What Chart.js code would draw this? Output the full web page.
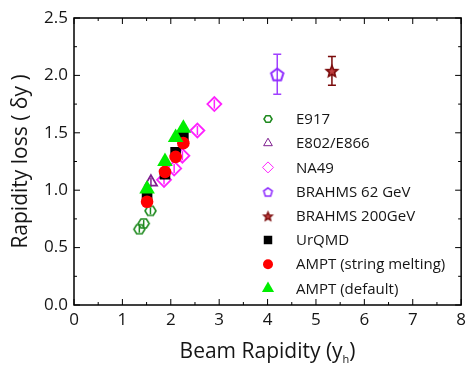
<!DOCTYPE html>
<html><head><meta charset="utf-8">
<script src="https://cdn.jsdelivr.net/npm/chart.js@4/dist/chart.umd.min.js"></script>
<style>html,body{margin:0;padding:0;background:#fff}#wrap{width:471px;height:365px}</style>
</head><body><div id="wrap"><canvas id="c" width="471" height="365"></canvas></div>
<script>
// ---- data ----
const seriesNames = ["E917","E802/E866","NA49","BRAHMS 62 GeV","BRAHMS 200GeV","UrQMD","AMPT (string melting)","AMPT (default)"];
const e917X = [1.35, 1.44, 1.58];
const e917Y = [0.66, 0.71, 0.82];
const e917Err = [0.03, 0.03, 0.03];
const e802X = [1.59];
const e802Y = [1.07];
const e802Err = [0.04];
const na49X = [1.86, 2.07, 2.24, 2.55, 2.90];
const na49Y = [1.09, 1.19, 1.30, 1.52, 1.75];
const na49Err = [0.04, 0.04, 0.04, 0.04, 0.04];
const b62X = [4.20];
const b62Y = [2.01];
const b62Err = [0.175];
const b200X = [5.33];
const b200Y = [2.04];
const b200Err = [0.125];
const urqmdX = [1.51, 1.88, 2.10, 2.26];
const urqmdY = [0.94, 1.14, 1.33, 1.47];
const amptSmX = [1.51, 1.88, 2.10, 2.26];
const amptSmY = [0.90, 1.16, 1.29, 1.41];
const amptDefX = [1.51, 1.88, 2.10, 2.26];
const amptDefY = [1.01, 1.25, 1.46, 1.54];
const xTickValues = [0,1,2,3,4,5,6,7,8];
const yTickValues = [0.0,0.5,1.0,1.5,2.0,2.5];
const xTitleMain = "Beam Rapidity (y", xTitleSub = "h", xTitleEnd = ")";
const yTitle = "Rapidity loss ( δy )";

// ---- marker shapes ----
function shape(kind, size, color, lw, fill){
  const pad = 3, c = document.createElement('canvas');
  c.width = c.height = size + pad*2;
  const g = c.getContext('2d'), cx = c.width/2, cy = c.height/2, r = size/2;
  g.beginPath();
  if (kind === 'hex') {
    for (let i=0;i<6;i++){const a=i*Math.PI/3; g.lineTo(cx+r*Math.cos(a), cy+r*Math.sin(a)*0.95);}
  } else if (kind === 'pent') {
    for (let i=0;i<5;i++){const a=-Math.PI/2+i*2*Math.PI/5; g.lineTo(cx+r*Math.cos(a), cy+r*Math.sin(a)+0.8);}
  } else if (kind === 'star') {
    for (let i=0;i<10;i++){const a=-Math.PI/2+i*Math.PI/5, rr=(i%2?r*0.45:r); g.lineTo(cx+rr*Math.cos(a), cy+rr*Math.sin(a)+0.8);}
  }
  g.closePath();
  if (fill){g.fillStyle=fill; g.fill();}
  g.lineWidth = lw; g.strokeStyle = color; g.lineJoin='miter'; g.stroke();
  return c;
}
const C = {e917:'#1f8a1f', e802:'#7f1f8f', na49:'#ff22ff', b62:'#a040ff', b200:'#7a0a0a', urqmd:'#000000', sm:'#ff0000', def:'#00ee00'};
const hexBig = shape('hex', 11, C.e917, 1.6), hexSmall = shape('hex', 8, C.e917, 1.6);
const pentBig = shape('pent', 13, '#8f2bff', 2), pentSmall = shape('pent', 9, '#8f2bff', 1.6);
const starBig = shape('star', 12, C.b200, 1.6, '#c04040'), starSmall = shape('star', 9, C.b200, 1.4, '#c04040');

const pts = (xs, ys) => xs.map((x,i)=>({x, y: ys[i]}));

const datasets = [
  {label:seriesNames[0], data:pts(e917X,e917Y), err:e917Err, pointStyle:hexBig, legendStyle:hexSmall, borderColor:C.e917, backgroundColor:'rgba(0,0,0,0)', order:7},
  {label:seriesNames[1], data:pts(e802X,e802Y), err:e802Err, pointStyle:'triangle', pointRadius:7, pointBorderWidth:1.8, legendStyle:'triangle', legendRadius:5, borderColor:C.e802, backgroundColor:'rgba(0,0,0,0)', order:6},
  {label:seriesNames[2], data:pts(na49X,na49Y), err:na49Err, pointStyle:'rectRot', pointRadius:7, pointBorderWidth:1.8, legendStyle:'rectRot', legendRadius:5.5, borderColor:C.na49, backgroundColor:'rgba(0,0,0,0)', order:5},
  {label:seriesNames[3], data:pts(b62X,b62Y), err:b62Err, pointStyle:pentBig, legendStyle:pentSmall, borderColor:C.b62, backgroundColor:'rgba(0,0,0,0)', order:4},
  {label:seriesNames[4], data:pts(b200X,b200Y), err:b200Err, pointStyle:starBig, legendStyle:starSmall, borderColor:C.b200, backgroundColor:'rgba(0,0,0,0)', order:3},
  {label:seriesNames[5], data:pts(urqmdX,urqmdY), pointStyle:'rect', pointRadius:7.5, pointBorderWidth:0, legendStyle:'rect', legendRadius:6, borderColor:C.urqmd, backgroundColor:C.urqmd, order:2},
  {label:seriesNames[6], data:pts(amptSmX,amptSmY), pointStyle:'circle', pointRadius:6.3, pointBorderWidth:0, legendStyle:'circle', legendRadius:5, borderColor:C.sm, backgroundColor:C.sm, order:1},
  {label:seriesNames[7], data:pts(amptDefX,amptDefY), pointStyle:'triangle', pointRadius:9, pointBorderWidth:0, legendStyle:'triangle', legendRadius:7, borderColor:C.def, backgroundColor:C.def, order:0}
];
datasets.forEach(d=>{ d.showLine=false; if(d.pointRadius===undefined) d.pointRadius=6; d.pointHoverRadius=d.pointRadius; });

const FONT = "'Open Sans','DejaVu Sans',sans-serif";
const TXT = '#151515';

const errorBars = {
  id:'errorBars',
  beforeDatasetsDraw(chart){
    const ctx = chart.ctx, ys = chart.scales.y;
    chart.data.datasets.forEach((ds, di)=>{
      if(!ds.err) return;
      const meta = chart.getDatasetMeta(di);
      ctx.save(); ctx.strokeStyle = ds.borderColor; ctx.lineWidth = 1.5;
      meta.data.forEach((el,i)=>{
        const e = ds.err[i], v = ds.data[i].y;
        const y1 = ys.getPixelForValue(v+e), y2 = ys.getPixelForValue(v-e);
        ctx.beginPath(); ctx.moveTo(el.x, y1); ctx.lineTo(el.x, y2);
        if (e > 0.1){ ctx.moveTo(el.x-4, y1); ctx.lineTo(el.x+4, y1); ctx.moveTo(el.x-4, y2); ctx.lineTo(el.x+4, y2); }
        ctx.stroke();
      });
      ctx.restore();
    });
  }
};

const frameTicks = {
  id:'frameTicks',
  afterDraw(chart){
    const ctx = chart.ctx, a = chart.chartArea, xs = chart.scales.x, ys = chart.scales.y;
    ctx.save(); ctx.strokeStyle = '#000'; ctx.lineWidth = 1.5;
    ctx.strokeRect(a.left, a.top, a.right-a.left, a.bottom-a.top);
    ctx.lineWidth = 1;
    const xt = []; for(let i=0;i<xTickValues.length;i++){ xt.push([xTickValues[i],6]); if(i<xTickValues.length-1) xt.push([(xTickValues[i]+xTickValues[i+1])/2,3]); }
    const yt = []; for(let i=0;i<yTickValues.length;i++){ yt.push([yTickValues[i],6]); if(i<yTickValues.length-1) yt.push([(yTickValues[i]+yTickValues[i+1])/2,3]); }
    ctx.beginPath();
    xt.forEach(([v,l])=>{ const p = xs.getPixelForValue(v); ctx.moveTo(p,a.bottom); ctx.lineTo(p,a.bottom-l); ctx.moveTo(p,a.top); ctx.lineTo(p,a.top+l); });
    yt.forEach(([v,l])=>{ const p = ys.getPixelForValue(v); ctx.moveTo(a.left,p); ctx.lineTo(a.left+l,p); ctx.moveTo(a.right,p); ctx.lineTo(a.right-l,p); });
    ctx.stroke();
    // x-axis title with subscript
    const big = "21px " + FONT, small = "11px " + FONT;
    ctx.fillStyle = TXT; ctx.textBaseline = 'alphabetic'; ctx.textAlign = 'left';
    ctx.font = big; const w1 = ctx.measureText(xTitleMain).width, w3 = ctx.measureText(xTitleEnd).width;
    ctx.font = small; const w2 = ctx.measureText(xTitleSub).width;
    const total = w1 + w2 + w3, cx = (a.left + a.right)/2, base = 358;
    let x = cx - total/2;
    ctx.font = big; ctx.fillText(xTitleMain, x, base); x += w1;
    ctx.font = small; ctx.fillText(xTitleSub, x, base + 5); x += w2;
    ctx.font = big; ctx.fillText(xTitleEnd, x, base);
    ctx.restore();
  }
};

const insideLegend = {
  id:'insideLegend',
  afterDatasetsDraw(chart){
    const ctx = chart.ctx;
    const mx = 268, tx = 296, y0 = 119, dy = 24.2;
    ctx.save();
    ctx.font = "15px " + FONT; ctx.textBaseline = 'middle';
    chart.data.datasets.forEach((ds,i)=>{
      const y = y0 + i*dy;
      ctx.save();
      ctx.fillStyle = ds.backgroundColor; ctx.strokeStyle = ds.borderColor;
      Chart.helpers.drawPoint(ctx, {pointStyle: ds.legendStyle, radius: ds.legendRadius || 5, borderWidth: ds.pointBorderWidth === 0 ? 0 : 1.6, rotation:0}, mx, y);
      ctx.restore();
      ctx.fillStyle = TXT;
      ctx.fillText(ds.label, tx, y + 1);
    });
    ctx.restore();
  }
};

new Chart(document.getElementById('c'), {
  type:'scatter',
  data:{datasets},
  options:{
    responsive:false, animation:false, devicePixelRatio:1,
    layout:{padding:{top:18,right:7,left:0,bottom:0}},
    plugins:{legend:{display:false}, tooltip:{enabled:false}},
    scales:{
      x:{type:'linear', min:0, max:8,
        afterBuildTicks(s){ s.ticks = xTickValues.map(v=>({value:v})); },
        afterFit(s){ s.height = 60; },
        grid:{display:false, drawTicks:false}, border:{display:false},
        ticks:{padding:5, color:TXT, font:{family:FONT, size:17}, callback:v=>String(v), maxRotation:0, autoSkip:false},
        title:{display:false}
      },
      y:{type:'linear', min:0, max:2.5,
        afterBuildTicks(s){ s.ticks = yTickValues.map(v=>({value:v})); },
        afterFit(s){ s.width = 74; },
        grid:{display:false, drawTicks:false}, border:{display:false},
        ticks:{padding:6, color:TXT, font:{family:FONT, size:17}, callback:v=>Number(v).toFixed(1), autoSkip:false},
        title:{display:true, text:yTitle, color:TXT, font:{family:FONT, size:21}, padding:{top:8,bottom:0}}
      }
    }
  },
  plugins:[errorBars, frameTicks, insideLegend]
});
</script></body></html>
